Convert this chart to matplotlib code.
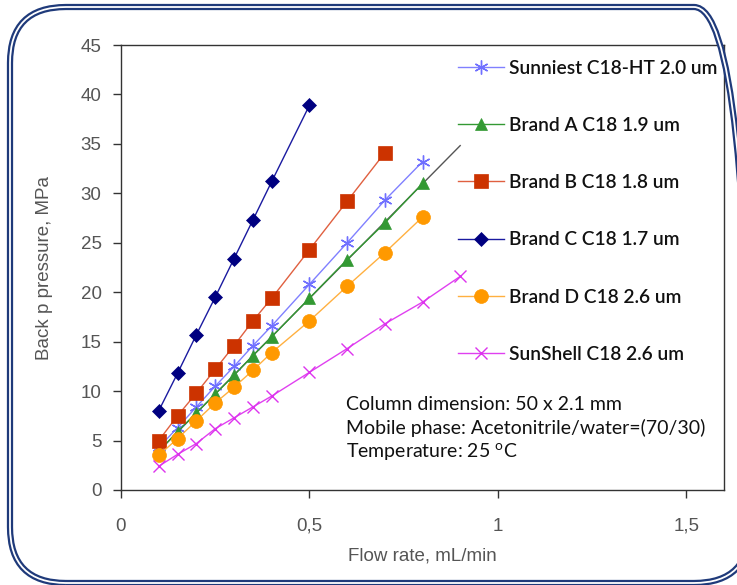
import numpy as np
import matplotlib
matplotlib.use("Agg")
import matplotlib.pyplot as plt
from matplotlib.patches import FancyBboxPatch
from matplotlib.transforms import Affine2D

# ===============================
# Data
# ===============================
flow = [0.1, 0.15, 0.2, 0.25, 0.3, 0.35, 0.4, 0.5, 0.6, 0.7, 0.8, 0.9]

sunniest = [4.3, 6.3, 8.4, 10.5, 12.5, 14.6, 16.6, 20.8, 25.0, 29.3, 33.2]
brand_a = [3.9, 5.9, 7.8, 9.7, 11.6, 13.6, 15.5, 19.4, 23.3, 27.0, 31.0]
brand_b = [5.0, 7.5, 9.8, 12.2, 14.6, 17.1, 19.4, 24.3, 29.2, 34.1]
brand_c = [8.0, 11.8, 15.7, 19.5, 23.4, 27.3, 31.2, 38.9]
brand_d = [3.5, 5.2, 7.0, 8.8, 10.4, 12.1, 13.9, 17.1, 20.6, 24.0, 27.6]
sunshell = [2.4, 3.6, 4.7, 6.2, 7.3, 8.4, 9.5, 11.9, 14.3, 16.8, 19.0, 21.6]

labels = ["Sunniest C18-HT 2.0 um", "Brand A C18 1.9 um", "Brand B C18 1.8 um",
          "Brand C C18 1.7 um", "Brand D C18 2.6 um", "SunShell C18 2.6 um"]

x_ticks = [0, 0.5, 1, 1.5]
x_tick_labels = ["0", "0,5", "1", "1,5"]
y_ticks = list(range(0, 50, 5))

notes = ["Column dimension: 50 x 2.1 mm",
         "Mobile phase: Acetonitrile/water=(70/30)",
         "Temperature: 25 $^{\\mathregular{o}}$C"]

# ===============================
# Figure
# ===============================
W, H = 737, 585
fig = plt.figure(figsize=(W / 100, H / 100), dpi=100)
ax = fig.add_axes([121 / W, 1 - 490 / H, (724 - 121) / W, (490 - 45) / H])

series = [
    (sunniest, "#8080ff", (6, 2, 0), 10, "#7070ff"),
    (brand_a, "#339933", "^", 8.5, "#339933"),
    (brand_b, "#e06040", "s", 9.5, "#cc3300"),
    (brand_c, "#1a1aa0", "D", 7, "#000080"),
    (brand_d, "#ffb040", "o", 10, "#ff9900"),
    (sunshell, "#e040f0", "x", 9, "#dd33ee"),
]

handles = []
for (yv, lc, mk, ms, mc), lab in zip(series, labels):
    xv = flow[:len(yv)]
    thin = mk in ("x",) or isinstance(mk, tuple)
    h, = ax.plot(xv, yv, color=lc, lw=1.0, marker=mk, markersize=ms,
                 markerfacecolor=mc, markeredgecolor=mc,
                 markeredgewidth=1.0 if thin else 0.5, label=lab)
    handles.append(h)

# linear trend line for Brand A
coef = np.polyfit(flow[:len(brand_a)], brand_a, 1)
xt = np.array([flow[0], flow[-1]])
ax.plot(xt, np.polyval(coef, xt), color="#555555", lw=1.0, zorder=1.5)

ax.set_xlim(0, 1.6)
ax.set_ylim(0, 45)
ax.set_xticks(x_ticks)
ax.set_xticklabels(x_tick_labels)
ax.set_yticks(y_ticks)
ax.tick_params(direction="out", length=6, width=1, colors="#333333",
               labelcolor="#555555", labelsize=13.5, pad=8)
ax.tick_params(axis="x", pad=14)
for s in ax.spines.values():
    s.set_color("#333333")
    s.set_linewidth(1.0)

lab_font = dict(family="Liberation Sans", fontsize=13.5, color="#555555")
for t in ax.get_xticklabels() + ax.get_yticklabels():
    t.set_family("Liberation Sans")
ax.set_xlabel("Flow rate, mL/min", labelpad=9, **lab_font)
ax.set_ylabel("Back p pressure, MPa", labelpad=20, **lab_font)

leg = ax.legend(handles=handles, loc="upper left", bbox_to_anchor=(0.54, 0.993),
                frameon=False, prop=dict(family="Lato", size=13.8, weight="semibold"),
                labelspacing=2.1, handlelength=2.4, handletextpad=0.25, borderaxespad=0.2)
for t in leg.get_texts():
    t.set_color("#111111")

for i, line in enumerate(notes):
    ax.text(346 / W, 1 - (404 + 24 * i) / H, line, transform=fig.transFigure,
            family="Lato", fontsize=14, color="#111111", va="center", ha="left")

# ===============================
# Rounded double border
# ===============================
px = Affine2D().scale(1 / W, 1 / H) + fig.transFigure
for lw, col in [(4.5, "#1f3a7a"), (1.3, "white")]:
    fig.patches.append(FancyBboxPatch((10, 2), 740, 576,
                                      boxstyle="round,pad=0,rounding_size=56",
                                      transform=px, fill=False, lw=lw, ec=col))

fig.savefig("out.png", dpi=100)
